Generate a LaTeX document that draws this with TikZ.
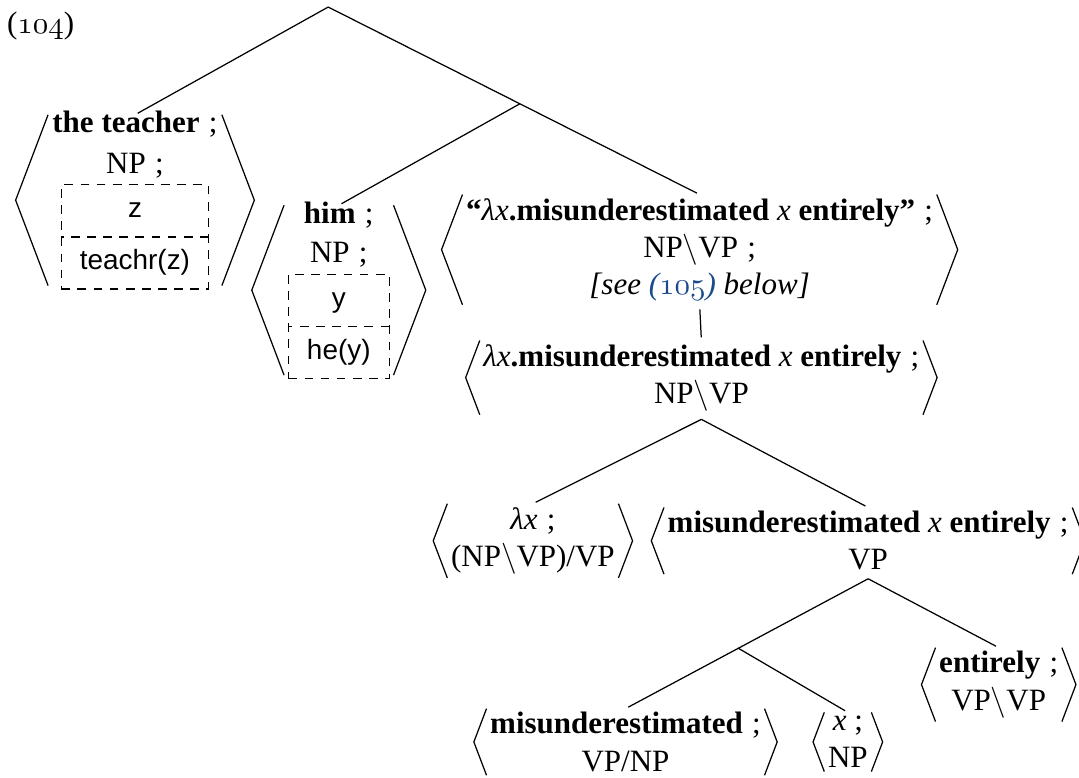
\documentclass[tikz,border=0pt]{standalone}
\usepackage{fontspec}
\setmainfont{Liberation Serif}
\setsansfont{Liberation Sans}
\usepackage{tikz}
\usetikzlibrary{positioning}
\usetikzlibrary{calc}
\usetikzlibrary{fit}
\usetikzlibrary{shapes.multipart}
\usepackage{xcolor}
\definecolor{linkblue}{RGB}{28,74,140}

% old style figures for example numbers
\newcommand{\osn}[1]{$\mathnormal{#1}$}
% the separator inside a pair
\newcommand{\semi}{\hspace{.3em};}
\newcommand{\vx}{{\normalfont\itshape x}}
\newcommand{\lx}{{\normalfont\itshape λx}}

\begin{document}
\begin{tikzpicture}[thin,
    sign/.style={align=center, inner xsep=1pt, inner ysep=1pt},
    lab/.style={align=center, inner sep=0pt},
    drs/.style={draw, dash pattern=on 2.8pt off 2.4pt, rectangle split,
        rectangle split parts=2, inner xsep=6pt, inner ysep=2.7pt,
        font=\sffamily\small},
    branch/.style={shorten >=1pt}]

    \useasboundingbox (0,0) rectangle (12.23,8.81);

    \node (exnum) at (0.46,8.52) {(\osn{104})};

    % the two NPs, each with its box
    \node[lab] (teacherlab) at (1.53,7.17) {\textbf{the teacher}\semi\\[1pt] NP\semi};
    \node[drs, below=1.8pt of teacherlab] (teacherdrs)
        {\strut z\nodepart{two}\strut teachr(z)};
    \node[sign, inner ysep=-1.5pt, fit=(teacherlab)(teacherdrs)] (teacher) {};

    \node[lab] (himlab) at (3.84,6.15) {\textbf{him}\semi\\[.7pt] NP\semi};
    \node[drs, below=1.8pt of himlab] (himdrs)
        {\strut y\nodepart{two}\strut he(y)};
    \node[sign, inner ysep=-1.5pt, fit=(himlab)(himdrs)] (him) {};

    % the verb phrase
    \node[sign] (see) at (7.93,5.98) {\textbf{“}\lx\textbf{.misunderestimated} \vx{} \textbf{entirely”}\semi\\
        NP$\backslash$VP\semi\\ \textit{[see \textcolor{linkblue}{(\osn{105})} below]}};
    \node[sign] (lam) at (7.95,4.53) {\lx\textbf{.misunderestimated} \vx{} \textbf{entirely}\semi\\ NP$\backslash$VP};
    \node[sign] (lx) at (6.04,2.68) {\lx\semi\\ (NP$\backslash$VP)/VP};
    \node[sign] (mxe) at (9.84,2.68) {\textbf{misunderestimated} \vx{} \textbf{entirely}\semi\\ VP};
    \node[sign] (entirely) at (11.32,1.05) {\textbf{entirely}\semi\\ VP$\backslash$VP};
    \node[sign] (misund) at (7.09,0.40) {\textbf{misunderestimated}\semi\\ VP/NP};
    \node[sign] (xn) at (9.61,0.40) {\vx{} ;\\ NP};

    % angle brackets round every pair
    \foreach \n in {teacher,him,see,lam,lx,mxe,entirely,misund,xn} {
        \draw (\n.north west) -- ($(\n.west)!.38!90:(\n.north west)$) -- (\n.south west);
        \draw (\n.north east) -- ($(\n.east)!.38!-90:(\n.north east)$) -- (\n.south east);
    }

    % branches
    \coordinate (root) at (3.72,8.73);
    \coordinate (mid) at ($(root)!.516!(see.north)$);
    \draw[branch] (root) -- (teacher.north);
    \draw[branch] (root) -- (see.north);
    \draw[branch] (mid) -- (him.north);

    \draw[branch, shorten <=1.5pt] (see.south) -- (lam.north);

    \coordinate[below=1.5pt of lam] (lamfoot);
    \draw[branch] (lamfoot) -- (lx.north);
    \draw[branch] (lamfoot) -- (mxe.north);

    \coordinate[below=1.5pt of mxe] (mxefoot);
    \coordinate (mid2) at ($(mxefoot)!.535!(misund.north)$);
    \draw[branch] (mxefoot) -- (entirely.north);
    \draw[branch] (mxefoot) -- (misund.north);
    \draw[branch] (mid2) -- (xn.north);

\end{tikzpicture}
\end{document}
